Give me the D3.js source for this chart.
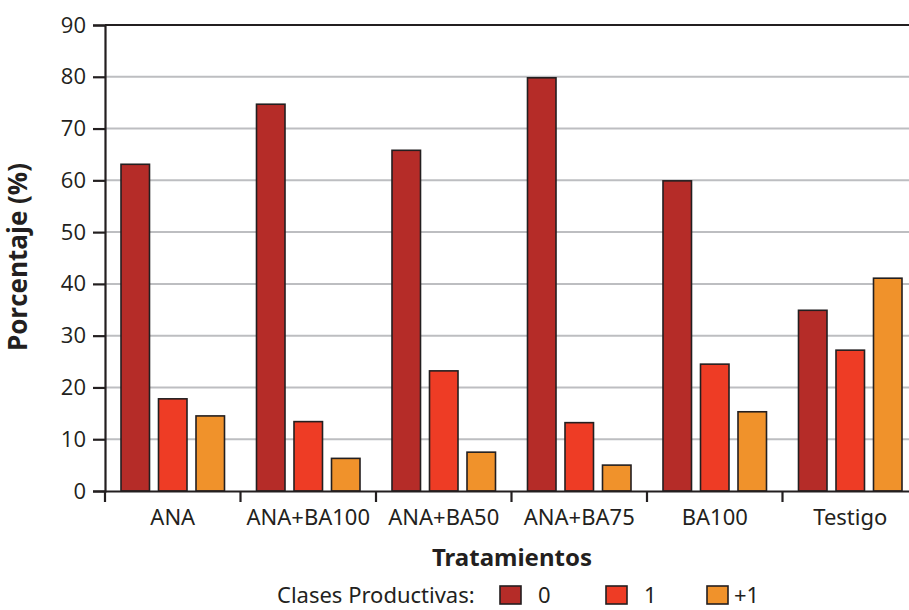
<!DOCTYPE html>
<html>
<head>
<meta charset="utf-8">
<script src="https://cdn.jsdelivr.net/npm/d3@7"></script>
<style>
  html, body { margin: 0; padding: 0; background: #fff; }
  svg { display: block; }
</style>
</head>
<body>
<svg id="chart" width="909" height="610"></svg>
<script>
// Tratamientos y porcentaje por clase productiva
const tratamientos = ["ANA", "ANA+BA100", "ANA+BA50", "ANA+BA75", "BA100", "Testigo"];
const clases = ["0", "1", "+1"];
const clase0 = [63.1, 74.7, 65.8, 79.8, 59.9, 34.9];
const clase1 = [17.8, 13.4, 23.2, 13.2, 24.5, 27.2];
const claseMas1 = [14.5, 6.3, 7.5, 5.0, 15.3, 41.1];
const yTicks = [0, 10, 20, 30, 40, 50, 60, 70, 80, 90];

const colores = ["#b52c28", "#ee3c25", "#f0922b"];
const series = [clase0, clase1, claseMas1];

const svg = d3.select("#chart");
const mLeft = 105, mRight = 918, mTop = 25, mBottom = 491;

const x0 = d3.scaleBand().domain(tratamientos).range([mLeft, mRight]).padding(0);
const x1 = d3.scaleBand().domain(clases).range([16, 119.5]).paddingInner(0.24).paddingOuter(0);
const y = d3.scaleLinear().domain([0, 90]).range([mBottom, mTop]);

// gridlines
svg.append("g")
  .selectAll("line")
  .data(yTicks.filter(t => t > 0 && t < 90))
  .join("line")
  .attr("x1", mLeft).attr("x2", mRight)
  .attr("y1", d => y(d)).attr("y2", d => y(d))
  .attr("stroke", "#bdbec1").attr("stroke-width", 2);

// top border
svg.append("line")
  .attr("x1", mLeft).attr("x2", mRight)
  .attr("y1", y(90)).attr("y2", y(90))
  .attr("stroke", "#231f20").attr("stroke-width", 2.2);

// bars
const rows = tratamientos.map((t, i) => ({ t, vals: clases.map((c, k) => ({ c, k, v: series[k][i] })) }));
svg.append("g")
  .selectAll("g")
  .data(rows)
  .join("g")
  .attr("transform", d => `translate(${x0(d.t)},0)`)
  .selectAll("rect")
  .data(d => d.vals)
  .join("rect")
  .attr("x", d => x1(d.c))
  .attr("width", x1.bandwidth())
  .attr("y", d => y(d.v))
  .attr("height", d => y(0) - y(d.v))
  .attr("fill", d => colores[d.k])
  .attr("stroke", "#231f20")
  .attr("stroke-width", 1.6);

// y axis
const yAxis = svg.append("g")
  .attr("transform", `translate(${mLeft},0)`)
  .call(d3.axisLeft(y).tickValues(yTicks).tickSize(12).tickPadding(7));
yAxis.select(".domain").attr("stroke", "#231f20").attr("stroke-width", 2.2);
yAxis.selectAll(".tick line").attr("stroke", "#231f20").attr("stroke-width", 2.2);
yAxis.selectAll(".tick text")
  .attr("fill", "#231f20")
  .style("font-family", "'Open Sans', sans-serif")
  .style("font-size", "22px");

// x axis
const xAxis = svg.append("g")
  .attr("transform", `translate(0,${mBottom})`)
  .call(d3.axisBottom(x0).tickSize(0).tickPadding(18.5));
xAxis.select(".domain").attr("stroke", "#231f20").attr("stroke-width", 2.2);
xAxis.selectAll(".tick text")
  .attr("fill", "#231f20")
  .style("font-family", "'Noto Sans', sans-serif")
  .style("font-size", "22px");
// separators between treatments
svg.append("g")
  .selectAll("line")
  .data(tratamientos.concat(["_end"]))
  .join("line")
  .attr("x1", (d, i) => mLeft + i * x0.bandwidth())
  .attr("x2", (d, i) => mLeft + i * x0.bandwidth())
  .attr("y1", mBottom).attr("y2", mBottom + 11)
  .attr("stroke", "#231f20").attr("stroke-width", 2.2);

// axis titles
svg.append("text")
  .attr("transform", `translate(27,257) rotate(-90)`)
  .attr("text-anchor", "middle")
  .attr("fill", "#231f20")
  .style("font-family", "'Open Sans', sans-serif")
  .style("font-weight", "bold")
  .style("font-size", "26px")
  .text("Porcentaje (%)");

svg.append("text")
  .attr("x", 512).attr("y", 566)
  .attr("text-anchor", "middle")
  .attr("fill", "#231f20")
  .style("font-family", "'Noto Sans', sans-serif")
  .style("font-weight", "bold")
  .style("font-size", "24px")
  .text("Tratamientos");

// legend
const legend = svg.append("g");
legend.append("text")
  .attr("x", 277).attr("y", 603)
  .attr("fill", "#231f20")
  .style("font-family", "'Noto Sans', sans-serif")
  .style("font-size", "22px")
  .text("Clases Productivas:");
const legX = [500, 606, 707];
const item = legend.selectAll("g.item")
  .data(clases)
  .join("g").attr("class", "item")
  .attr("transform", (d, i) => `translate(${legX[i]},586)`);
item.append("rect")
  .attr("width", 21).attr("height", 18)
  .attr("fill", (d, i) => colores[i])
  .attr("stroke", "#231f20").attr("stroke-width", 1.6);
item.append("text")
  .attr("x", (d, i) => i === 2 ? 27 : 38).attr("y", 17)
  .attr("fill", "#231f20")
  .style("font-family", "'Noto Sans', sans-serif")
  .style("font-size", "22px")
  .text(d => d);
</script>
</body>
</html>
